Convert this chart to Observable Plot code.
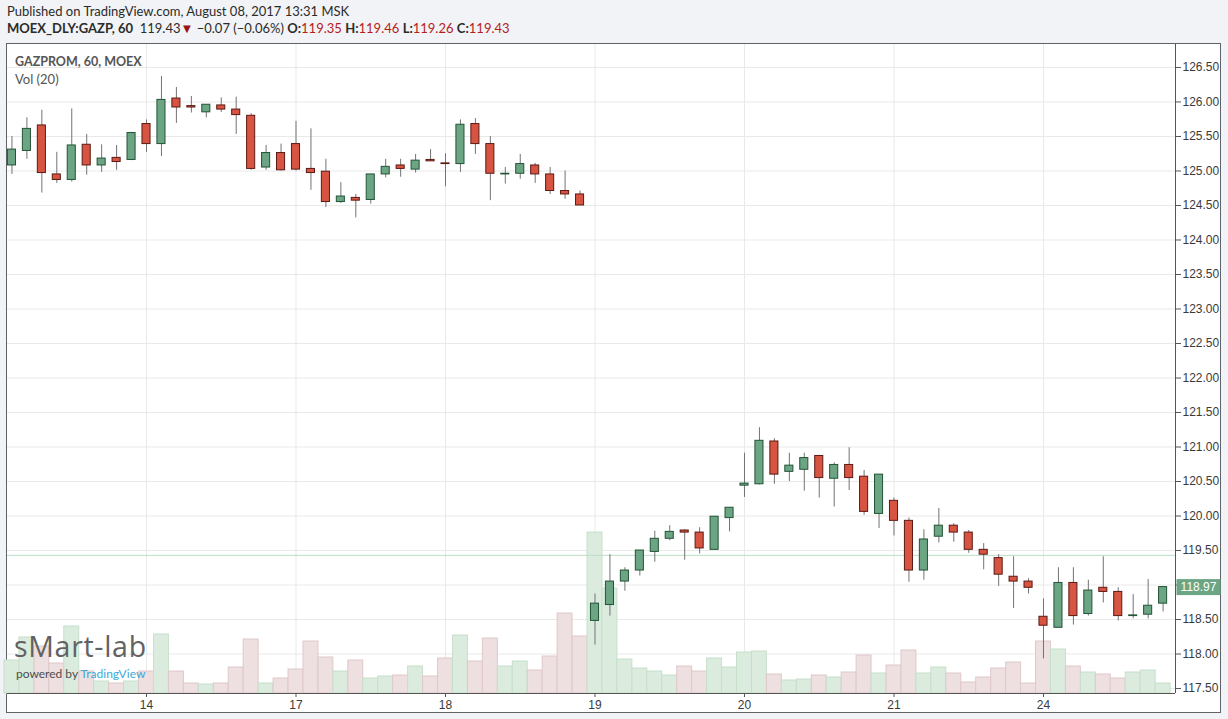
<!DOCTYPE html>
<html><head><meta charset="utf-8">
<script src="https://cdn.jsdelivr.net/npm/d3@7"></script>
<script src="https://cdn.jsdelivr.net/npm/@observablehq/plot@0.6"></script>
<style>
body{margin:0;background:#f1f3f6;width:1228px;height:719px;overflow:hidden;position:relative;font-family:Lato,"Open Sans",sans-serif;}
.hdr{position:absolute;left:7px;font-size:13px;line-height:13px;color:#2b2b2b;white-space:nowrap;}
.hdr b{font-weight:700;}
.red{color:#b71c1c;}
.tri{color:#9b1111;font-size:13px;}
#chart{position:absolute;left:6px;top:43px;width:1213px;height:668px;border:1px solid #5f6368;background:#fff;}
.lbl{position:absolute;white-space:nowrap;color:#555;font-family:Lato,sans-serif;}
</style></head><body>
<div class="hdr" id="h1" style="top:5px"></div>
<div class="hdr" id="h2" style="top:22px"></div>
<div id="chart"></div>
<div class="lbl" style="left:15px;top:55px;font-size:12.5px;line-height:13px;font-weight:700;color:#555">GAZPROM, 60, MOEX</div>
<div class="lbl" style="left:15px;top:73px;font-size:13px;line-height:13px;color:#555">Vol (20)</div>
<div class="lbl" style="left:14px;top:632px;font-size:28.5px;line-height:28px;color:#626262;letter-spacing:0.7px;font-family:'Open Sans',sans-serif">sMart-lab</div>
<div class="lbl" style="left:16px;top:668px;font-size:12px;line-height:12px;color:#4d4d4d">powered by <span style="color:#3ba9dc">TradingView</span></div>
<script>
// ---- data ----
const publishedText = "Published on TradingView.com, August 08, 2017 13:31 MSK";
const symbolText = "MOEX_DLY:GAZP, 60";
const lastPrice = 119.43;
const changeAbs = -0.07;
const changePct = -0.06;
const quoteLabels = ["O:", "H:", "L:", "C:"];
const quoteValues = [119.35, 119.46, 119.26, 119.43];

const openP  = [125.08,125.29,125.66,124.95,124.87,125.38,125.08,125.19,125.16,125.68,
                125.39,126.05,125.94,125.85,125.95,125.89,125.80,125.05,125.26,125.39,
                125.03,124.99,124.55,124.61,124.58,124.95,125.08,125.02,125.16,125.11,
                125.10,125.68,125.39,124.95,124.96,125.08,124.95,124.71,124.66,118.48,
                118.71,119.05,119.21,119.48,119.67,119.79,119.76,119.51,119.97,120.44,
                120.46,121.08,120.64,120.67,120.87,120.54,120.74,120.57,120.03,120.22,
                119.93,119.21,119.70,119.86,119.76,119.51,119.39,119.12,119.05,118.54,
                118.38,119.03,118.58,118.96,118.90,118.55,118.57,118.73];
const highP  = [125.50,125.77,125.88,125.27,125.90,125.53,125.38,125.37,125.56,125.74,
                126.37,126.21,126.08,125.96,126.06,126.07,125.83,125.37,125.39,125.72,
                125.61,125.17,124.83,124.66,124.95,125.17,125.17,125.24,125.31,125.25,
                125.74,125.76,125.50,125.05,125.24,125.11,125.05,125.00,124.71,118.87,
                119.44,119.25,119.50,119.78,119.86,119.80,119.83,119.99,120.12,120.91,
                121.28,121.12,120.91,120.91,120.87,120.77,120.99,120.66,120.60,120.26,
                119.97,119.80,120.11,119.89,119.79,119.60,119.44,119.41,119.09,118.80,
                119.25,119.25,119.07,119.41,118.96,118.86,119.08,118.98];
const lowP   = [124.95,125.17,124.68,124.82,124.84,124.94,124.98,125.01,125.15,125.27,
                125.21,125.69,125.84,125.77,125.85,125.53,125.01,125.01,125.00,125.00,
                124.72,124.47,124.53,124.32,124.52,124.90,124.91,124.97,125.14,124.77,
                124.98,125.24,124.57,124.81,124.88,124.82,124.66,124.59,124.50,118.13,
                118.55,118.91,119.13,119.33,119.64,119.36,119.45,119.51,119.77,120.27,
                120.45,120.46,120.50,120.36,120.26,120.13,120.37,120.01,119.82,119.71,
                119.04,119.07,119.61,119.62,119.46,119.22,118.98,118.66,118.87,117.93,
                118.38,118.42,118.55,118.74,118.48,118.51,118.51,118.61];
const closeP = [125.31,125.61,124.97,124.87,125.37,125.08,125.18,125.13,125.55,125.39,
                126.03,125.92,125.92,125.96,125.89,125.81,125.03,125.26,125.01,125.02,
                124.97,124.55,124.63,124.57,124.95,125.06,125.03,125.15,125.14,125.10,
                125.67,125.39,124.96,124.96,125.10,124.95,124.71,124.66,124.50,118.73,
                119.05,119.21,119.50,119.67,119.77,119.76,119.53,119.99,120.12,120.47,
                121.09,120.60,120.73,120.84,120.55,120.74,120.55,120.06,120.60,119.93,
                119.21,119.66,119.86,119.76,119.51,119.44,119.15,119.05,118.96,118.41,
                119.03,118.55,118.92,118.90,118.55,118.56,118.70,118.97];
// relative hourly volume (units unknown)
const volume = [33,56,47,30,67,22,12,10,12,22,
                59,22,10,9,10,26,54,10,15,24,
                52,36,22,33,15,17,18,27,17,35,
                58,32,55,27,32,23,37,80,57,161,
                105,34,25,22,18,27,22,35,26,41,
                42,19,13,14,18,16,21,38,20,28,
                43,20,26,20,11,16,25,31,10,52,
                44,27,21,19,15,21,23,10];
const dayLabels = ["14","17","18","19","20","21","24"];
const dayStartBar = [9,19,29,39,49,59,69];
const priceTicks = [117.5,118,118.5,119,119.5,120,120.5,121,121.5,122,122.5,123,123.5,124,124.5,125,125.5,126,126.5];

// ---- header ----
const fmt = d3.format(".2f");
document.getElementById("h1").textContent = publishedText;
const minus = s => s.replace("-", "\u2212");
document.getElementById("h2").innerHTML =
  `<b>${symbolText}</b>&nbsp; ${fmt(lastPrice)}<span class="tri">&#9660;</span> ${minus(fmt(changeAbs))} (${minus(fmt(changePct))}%) ` +
  quoteLabels.map((l, k) => `<b>${l}</b><span class="red">${fmt(quoteValues[k])}</span>`).join(" ");

// ---- chart ----
const bars = openP.map((o, i) => ({i, o, h: highP[i], l: lowP[i], c: closeP[i], v: volume[i], up: closeP[i] >= o}));
const W = 1213, H = 668, mR = 45, mB = 19;
const yMin = 117.428, yMax = 126.833;
const volUnit = 0.248 * (yMax - yMin) / d3.max(volume);
const last = [bars[bars.length - 1]];
const badgeDx = 23;

const badge = (index, scales, values, dims, ctx, next) => {
  const g = next(index, scales, values, dims, ctx);
  const y = values.y ? values.y[index[0]] : scales.y(last[0].c);
  const x = dims.width - dims.marginRight;
  const r = document.createElementNS("http://www.w3.org/2000/svg", "rect");
  r.setAttribute("x", x + 1 - badgeDx); r.setAttribute("y", y - 8);
  r.setAttribute("width", dims.marginRight - 1); r.setAttribute("height", 16);
  r.setAttribute("fill", "#6ba583");
  g.insertBefore(r, g.firstChild);
  return g;
};

const chart = Plot.plot({
  width: W, height: H,
  marginLeft: 0, marginTop: 0, marginRight: mR, marginBottom: mB,
  style: {fontFamily: "'Liberation Sans', Arial, sans-serif", fontSize: "12px", background: "white", overflow: "visible", color: "#3a3a3a"},
  x: {type: "linear", domain: [-0.298, 77.83]},
  y: {domain: [yMin, yMax]},
  marks: [
    Plot.gridY(priceTicks, {stroke: "#e9e9e9", strokeOpacity: 1}),
    Plot.gridX(dayStartBar, {stroke: "#e9e9e9", strokeOpacity: 1}),
    Plot.rect(bars, {x1: d => d.i - 0.5, x2: d => d.i + 0.5, y1: yMin, y2: d => yMin + d.v * volUnit,
      fill: d => d.up ? "#dbecdf" : "#eedfe0", stroke: d => d.up ? "#c6dfcb" : "#dfc8c9", strokeWidth: 1}),
    Plot.ruleY([lastPrice], {stroke: "#bcdcc4", strokeWidth: 1}),
    Plot.ruleX(bars, {x: "i", y1: "l", y2: "h", stroke: "#737375", strokeWidth: 1}),
    Plot.rect(bars, {x1: d => d.i - 0.27, x2: d => d.i + 0.27, y1: "o", y2: "c",
      fill: d => d.up ? "#6ba583" : "#d75442", stroke: d => d.up ? "#225437" : "#5b1a13", strokeWidth: 1}),
    Plot.ruleX([77.83], {stroke: "#555", strokeWidth: 1}),
    Plot.ruleY([yMin], {stroke: "#555", strokeWidth: 1}),
    Plot.axisY(priceTicks, {anchor: "right", tickFormat: fmt, tickSize: 5, tickPadding: 2, label: null, stroke: "#555", fill: "#3a3a3a"}),
    Plot.axisX(dayStartBar, {anchor: "bottom", tickFormat: (d, k) => dayLabels[k], tickSize: 4, tickPadding: 3, label: null, stroke: "#555", fill: "#3a3a3a"}),
    Plot.text(last, {y: "c", frameAnchor: "right", dx: badgeDx, text: d => fmt(d.c), fill: "white", textAnchor: "middle", fontSize: 12, render: badge})
  ]
});
document.getElementById("chart").appendChild(chart);
</script>
</body></html>
